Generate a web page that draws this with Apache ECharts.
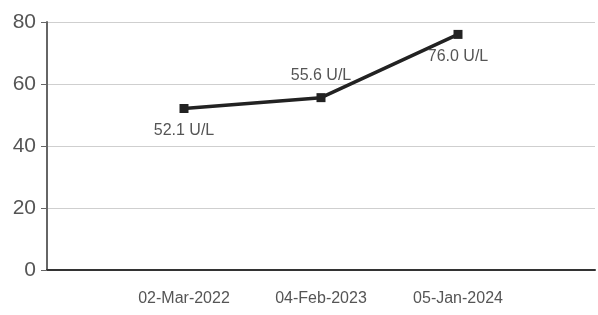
<!DOCTYPE html>
<html><head><meta charset="utf-8">
<script src="https://cdn.jsdelivr.net/npm/echarts@6/dist/echarts.min.js"></script>
<style>html,body{margin:0;padding:0;background:#fff}#c{width:598px;height:315px}</style>
</head><body><div id="c"></div>
<script>
const categories = ['', '02-Mar-2022', '04-Feb-2023', '05-Jan-2024', ''];
const values = [null, 52.1, 55.6, 76.0, null];
const labelTexts = ['', '52.1 U/L', '55.6 U/L', '76.0 U/L', ''];
const labelPlaces = ['', 'bottom', 'top', 'bottom', ''];
const yTicks = [0, 20, 40, 60, 80];

const chart = echarts.init(document.getElementById('c'));
chart.setOption({
  animation: false,
  grid: {left: 47, right: 0, top: 22, bottom: 45, containLabel: false},
  xAxis: {
    type: 'category', data: categories, boundaryGap: false,
    axisLine: {lineStyle: {color: '#333', width: 2}},
    axisTick: {show: false},
    axisLabel: {color: '#555', fontFamily: 'Liberation Sans, Arial', fontSize: 16, margin: 21},
    splitLine: {show: false}
  },
  yAxis: {
    type: 'value', min: yTicks[0], max: yTicks[yTicks.length-1], interval: 20,
    axisLine: {show: true, lineStyle: {color: '#666', width: 2}},
    axisTick: {show: true, length: 6, lineStyle: {color: '#666'}},
    axisLabel: {color: '#555', fontFamily: 'Liberation Sans, Arial', fontSize: 21, margin: 11},
    splitLine: {show: true, lineStyle: {color: '#cfcfcf', width: 1}}
  },
  series: [{
    type: 'line', connectNulls: false,
    data: values.map((v, i) => v === null ? null : {
      value: v,
      label: {show: true, position: labelPlaces[i], formatter: labelTexts[i], distance: 10}
    }),
    symbol: 'rect', symbolSize: 9,
    lineStyle: {color: '#222', width: 3.5},
    itemStyle: {color: '#222'},
    label: {color: '#555', fontFamily: 'Liberation Sans, Arial', fontSize: 16}
  }]
});
</script></body></html>
